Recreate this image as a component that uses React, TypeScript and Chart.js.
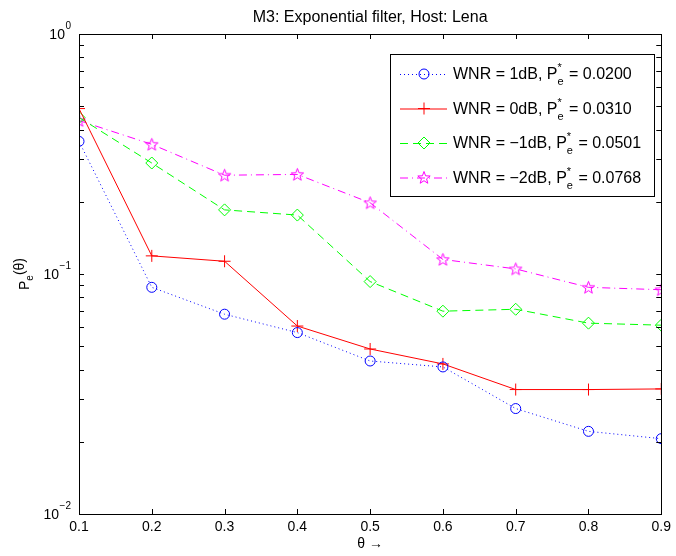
import React, { useEffect, useRef } from "react";
import { Chart, registerables } from "chart.js";

Chart.register(...registerables);

// ---- data ----
const thetas = [0.1, 0.2, 0.3, 0.4, 0.5, 0.6, 0.7, 0.8, 0.9];
const wnrPlus1 = [0.357, 0.088, 0.068, 0.057, 0.0434, 0.041, 0.0275, 0.0221, 0.0206];
const wnr0 = [0.489, 0.119, 0.113, 0.0607, 0.0487, 0.0422, 0.033, 0.033, 0.0332];
const wnrMinus1 = [0.449, 0.29, 0.185, 0.176, 0.093, 0.07, 0.0713, 0.0624, 0.0612];
const wnrMinus2 = [0.436, 0.347, 0.258, 0.26, 0.198, 0.115, 0.105, 0.088, 0.086];
const xTickValues = [0.1, 0.2, 0.3, 0.4, 0.5, 0.6, 0.7, 0.8, 0.9];
const yDecades = [-2, -1, 0];
const legendWnr = ["1dB", "0dB", "\u22121dB", "\u22122dB"];
const legendPe = ["0.0200", "0.0310", "0.0501", "0.0768"];
const titleText = "M3: Exponential filter, Host: Lena";

const FONT = "'Liberation Sans', Arial, Helvetica, sans-serif";
const BLUE = "#0000ff";
const RED = "#ff0000";
const GREEN = "#00ff00";
const MAGENTA = "#ff00ff";

function starPath(ctx: CanvasRenderingContext2D, cx: number, cy: number, ro: number, ri: number) {
  ctx.beginPath();
  for (let i = 0; i < 10; i++) {
    const r = i % 2 === 0 ? ro : ri;
    const a = -Math.PI / 2 + (i * Math.PI) / 5;
    const px = cx + r * Math.cos(a);
    const py = cy + r * Math.sin(a);
    if (i === 0) ctx.moveTo(px, py);
    else ctx.lineTo(px, py);
  }
  ctx.closePath();
}

function makeStar(): HTMLCanvasElement {
  const c = document.createElement("canvas");
  c.width = 15;
  c.height = 15;
  const g = c.getContext("2d")!;
  g.strokeStyle = MAGENTA;
  g.lineWidth = 1;
  starPath(g, 7.5, 8, 6.5, 2.7);
  g.stroke();
  return c;
}

function drawMarker(ctx: CanvasRenderingContext2D, kind: string, x: number, y: number, color: string) {
  ctx.save();
  ctx.strokeStyle = color;
  ctx.lineWidth = 1;
  ctx.setLineDash([]);
  ctx.beginPath();
  if (kind === "circle") {
    ctx.arc(x, y, 5, 0, Math.PI * 2);
  } else if (kind === "cross") {
    ctx.moveTo(x - 6, y);
    ctx.lineTo(x + 6, y);
    ctx.moveTo(x, y - 6);
    ctx.lineTo(x, y + 6);
  } else if (kind === "diamond") {
    ctx.moveTo(x, y - 6);
    ctx.lineTo(x + 6, y);
    ctx.lineTo(x, y + 6);
    ctx.lineTo(x - 6, y);
    ctx.closePath();
  } else if (kind === "star") {
    starPath(ctx, x, y + 0.5, 6.5, 2.7);
  }
  ctx.stroke();
  ctx.restore();
}

const decorPlugin = {
  id: "matlabDecor",
  afterDraw(chart: any) {
    const ctx: CanvasRenderingContext2D = chart.ctx;
    const { left, right, top, bottom } = chart.chartArea;
    const xs = chart.scales.x;
    const ys = chart.scales.y;
    ctx.save();
    ctx.strokeStyle = "#000";
    ctx.lineWidth = 1;
    ctx.setLineDash([]);

    // axes box
    ctx.strokeRect(Math.round(left) + 0.5, Math.round(top) + 0.5, Math.round(right - left), Math.round(bottom - top));

    // x ticks (inward, bottom and top)
    ctx.beginPath();
    for (const v of xTickValues) {
      const px = Math.round(xs.getPixelForValue(v)) + 0.5;
      ctx.moveTo(px, bottom);
      ctx.lineTo(px, bottom - 5);
      ctx.moveTo(px, top);
      ctx.lineTo(px, top + 5);
    }
    // y ticks (major + minor, left and right)
    for (const d of yDecades) {
      const maxK = d < 0 ? 9 : 1;
      for (let k = 1; k <= maxK; k++) {
        const val = k * Math.pow(10, d);
        const py = Math.round(ys.getPixelForValue(val)) + 0.5;
        const len = 5;
        ctx.moveTo(left, py);
        ctx.lineTo(left + len, py);
        ctx.moveTo(right, py);
        ctx.lineTo(right - len, py);
      }
    }
    ctx.stroke();

    ctx.fillStyle = "#000";
    // y tick labels 10^d
    for (const d of yDecades) {
      const py = ys.getPixelForValue(Math.pow(10, d));
      const sup = d < 0 ? "\u2212" + String(-d) : String(d);
      ctx.font = `10px ${FONT}`;
      const supW = ctx.measureText(sup).width;
      const supRight = left - 8;
      ctx.textAlign = "left";
      ctx.textBaseline = "alphabetic";
      ctx.fillText(sup, supRight - supW, py - 5);
      ctx.font = `14px ${FONT}`;
      ctx.textAlign = "right";
      ctx.textBaseline = "middle";
      ctx.fillText("10", supRight - supW - 0.5, py + 1);
    }

    // title
    ctx.font = `16px ${FONT}`;
    ctx.textAlign = "center";
    ctx.textBaseline = "alphabetic";
    ctx.fillText(titleText, (left + right) / 2, 22);

    // x axis title
    ctx.font = `14px ${FONT}`;
    ctx.textBaseline = "middle";
    ctx.fillText("\u03b8 \u2192", (left + right) / 2, 544);

    // y axis title P_e(θ), rotated
    ctx.save();
    ctx.translate(24, (top + bottom) / 2);
    ctx.rotate(-Math.PI / 2);
    ctx.font = `14px ${FONT}`;
    const wP = ctx.measureText("P").width;
    ctx.font = `10px ${FONT}`;
    const wE = ctx.measureText("e").width;
    ctx.font = `14px ${FONT}`;
    const wT = ctx.measureText("(\u03b8)").width;
    const total = wP + wE + wT;
    let cx = -total / 2;
    ctx.textAlign = "left";
    ctx.textBaseline = "alphabetic";
    ctx.fillText("P", cx, 5);
    cx += wP;
    ctx.font = `10px ${FONT}`;
    ctx.fillText("e", cx, 9);
    cx += wE;
    ctx.font = `14px ${FONT}`;
    ctx.fillText("(\u03b8)", cx, 0);
    ctx.restore();

    // legend
    const lx = 390, ly = 54, lw = 264, lh = 142;
    ctx.fillStyle = "#fff";
    ctx.fillRect(lx, ly, lw, lh);
    ctx.strokeStyle = "#000";
    ctx.lineWidth = 1;
    ctx.strokeRect(lx + 0.5, ly + 0.5, lw, lh);
    const rows = [
      { color: BLUE, dash: [1, 3], marker: "circle" },
      { color: RED, dash: [], marker: "cross" },
      { color: GREEN, dash: [8, 5], marker: "diamond" },
      { color: MAGENTA, dash: [8, 4, 1, 4], marker: "star" },
    ];
    rows.forEach((r, i) => {
      const yy = ly + 20 + i * 34.5;
      ctx.save();
      ctx.strokeStyle = r.color;
      ctx.lineWidth = 1;
      ctx.setLineDash(r.dash);
      ctx.beginPath();
      ctx.moveTo(lx + 10, yy + 0.5);
      ctx.lineTo(lx + 57, yy + 0.5);
      ctx.stroke();
      ctx.restore();
      drawMarker(ctx, r.marker, lx + 34, yy, r.color);

      ctx.fillStyle = "#000";
      ctx.textAlign = "left";
      ctx.textBaseline = "alphabetic";
      let tx = lx + 63;
      const base = yy + 5;
      ctx.font = `16px ${FONT}`;
      const s1 = `WNR = ${legendWnr[i]}, P`;
      ctx.fillText(s1, tx, base);
      tx += ctx.measureText(s1).width;
      ctx.font = `11px ${FONT}`;
      ctx.fillText("e", tx, base + 6);
      ctx.fillText("*", tx, base - 8);
      tx += ctx.measureText("e").width + 1;
      ctx.font = `16px ${FONT}`;
      ctx.fillText(` = ${legendPe[i]}`, tx, base);
    });
    ctx.restore();
  },
};

export default function App() {
  const ref = useRef<HTMLCanvasElement | null>(null);
  useEffect(() => {
    document.body.style.margin = "0";
    const star = makeStar();
    const mk = (arr: number[]) => thetas.map((t, i) => ({ x: t, y: arr[i] }));
    const chart = new Chart(ref.current!, {
      type: "line",
      data: {
        datasets: [
          {
            label: "WNR = 1dB",
            data: mk(wnrPlus1),
            borderColor: BLUE,
            borderWidth: 1,
            borderDash: [1, 3],
            pointStyle: "circle",
            pointRadius: 5,
            pointBorderColor: BLUE,
            pointBackgroundColor: "rgba(0,0,0,0)",
            pointBorderWidth: 1,
            tension: 0,
          },
          {
            label: "WNR = 0dB",
            data: mk(wnr0),
            borderColor: RED,
            borderWidth: 1,
            pointStyle: "cross",
            pointRadius: 6,
            pointBorderColor: RED,
            pointBorderWidth: 1,
            tension: 0,
          },
          {
            label: "WNR = -1dB",
            data: mk(wnrMinus1),
            borderColor: GREEN,
            borderWidth: 1,
            borderDash: [8, 5],
            pointStyle: "rectRot",
            pointRadius: 6,
            pointBorderColor: GREEN,
            pointBackgroundColor: "rgba(0,0,0,0)",
            pointBorderWidth: 1,
            tension: 0,
          },
          {
            label: "WNR = -2dB",
            data: mk(wnrMinus2),
            borderColor: MAGENTA,
            borderWidth: 1,
            borderDash: [8, 4, 1, 4],
            pointStyle: star as any,
            pointRadius: 7,
            tension: 0,
          },
        ],
      },
      options: {
        animation: false,
        responsive: false,
        events: [],
        layout: { padding: { top: 34, right: 13, left: 0, bottom: 0 } },
        plugins: {
          legend: { display: false },
          title: { display: false },
          tooltip: { enabled: false },
        },
        scales: {
          x: {
            type: "linear",
            min: 0.1,
            max: 0.9,
            grid: { display: false, drawTicks: false },
            border: { display: false },
            afterBuildTicks: (scale: any) => {
              scale.ticks = xTickValues.map((v) => ({ value: v }));
            },
            afterFit: (scale: any) => {
              scale.height = 42;
            },
            ticks: {
              autoSkip: false,
              maxRotation: 0,
              padding: 5,
              color: "#000",
              font: { family: FONT, size: 14 },
              callback: (v: any) => Number(v).toFixed(1),
            },
          },
          y: {
            type: "logarithmic",
            min: 0.01,
            max: 1,
            grid: { display: false, drawTicks: false },
            border: { display: false },
            ticks: { display: false },
            afterFit: (scale: any) => {
              scale.width = 79;
            },
          },
        },
      },
      plugins: [decorPlugin],
    });
    return () => chart.destroy();
  }, []);
  return (
    <div style={{ position: "fixed", left: 0, top: 0, width: 676, height: 556, background: "#fff" }}>
      <canvas ref={ref} width={676} height={556} style={{ display: "block" }} />
    </div>
  );
}
